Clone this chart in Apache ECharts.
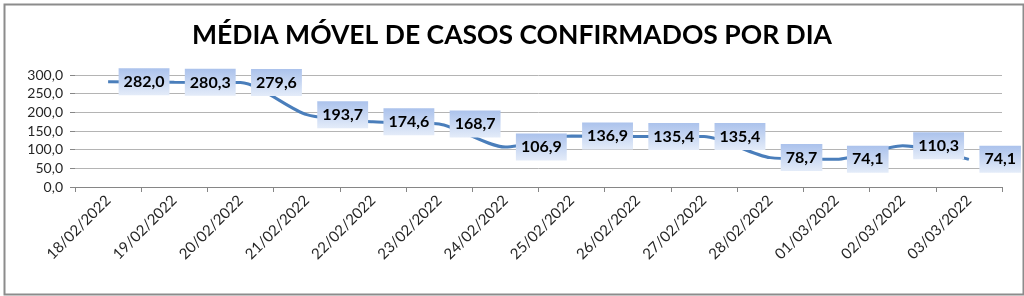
<!DOCTYPE html>
<html>
<head>
<meta charset="utf-8">
<script src="https://cdn.jsdelivr.net/npm/echarts@6/dist/echarts.min.js"></script>
<style>
html,body{margin:0;padding:0;background:#fff;}
#c{width:1024px;height:296px;}
</style>
</head>
<body>
<div id="c"></div>
<script>
const titleText = 'MÉDIA MÓVEL DE CASOS CONFIRMADOS POR DIA';
const categories = ['18/02/2022','19/02/2022','20/02/2022','21/02/2022','22/02/2022','23/02/2022','24/02/2022','25/02/2022','26/02/2022','27/02/2022','28/02/2022','01/03/2022','02/03/2022','03/03/2022'];
const values = [282.0, 280.3, 279.6, 193.7, 174.6, 168.7, 106.9, 136.9, 135.4, 135.4, 78.7, 74.1, 110.3, 74.1];

const fmt = v => v.toFixed(1).replace('.', ',');
const chart = echarts.init(document.getElementById('c'), null, {renderer:'canvas'});
const labelBg = new echarts.graphic.LinearGradient(0, 0, 0, 1, [
  {offset:0, color:'#abc2ec'}, {offset:1, color:'#e4ecf9'}
]);
chart.setOption({
  animation:false,
  backgroundColor:'#fff',
  title:{
    text:titleText, left:'center', top:17,
    textStyle:{fontFamily:'Lato', fontWeight:'bold', fontSize:26.5, color:'#000'}
  },
  graphic:[{
    type:'rect', left:2, top:2, silent:true,
    shape:{x:0,y:0,width:1019,height:290},
    style:{fill:'none', stroke:'#8c8c8c', lineWidth:2}
  }],
  grid:{left:75, right:22, top:75, bottom:109, containLabel:false},
  xAxis:{
    type:'category', data:categories, boundaryGap:true,
    axisLine:{lineStyle:{color:'#868686', width:1}},
    axisTick:{show:true, alignWithLabel:false, length:5, lineStyle:{color:'#868686'}},
    axisLabel:{interval:0, rotate:45, margin:11, fontFamily:'Lato', fontSize:15, color:'#262626'}
  },
  yAxis:{
    type:'value', min:0, max:300, interval:50,
    axisLine:{show:false},
    axisTick:{show:true, length:5, lineStyle:{color:'#868686'}},
    splitLine:{lineStyle:{color:'#b4b4b4', width:1}},
    axisLabel:{formatter:v=>fmt(v), fontFamily:'Lato', fontSize:14, color:'#262626', margin:12}
  },
  series:[{
    type:'line', data:values, smooth:0.25, symbol:'circle', symbolSize:1, showSymbol:true,
    itemStyle:{color:'rgba(74,126,187,0)'},
    lineStyle:{color:'#4a7ebb', width:3},
    label:{
      show:true, position:'right', distance:10,
      formatter:p=>fmt(p.value),
      fontFamily:'Lato', fontWeight:'bold', fontSize:16, color:'#000',
      padding:[6,5,5,5],
      backgroundColor:labelBg
    },
    labelLayout:{hideOverlap:false}
  }]
});
</script>
</body>
</html>
